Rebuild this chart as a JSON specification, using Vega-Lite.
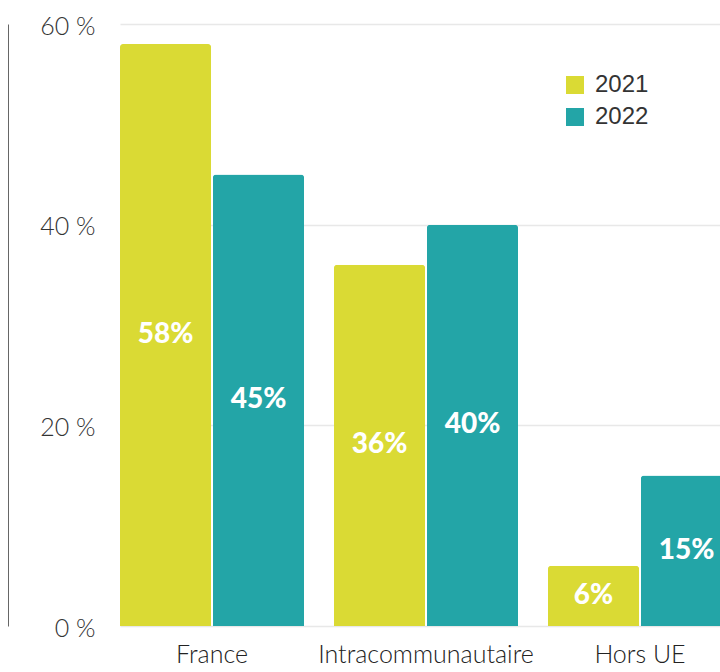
{
  "$schema": "https://vega.github.io/schema/vega-lite/v6.json",
  "autosize": {"type": "none"},
  "padding": {"left": 120, "top": 24, "right": 0, "bottom": 46},
  "width": 612,
  "height": 602,
  "background": "white",
  "config": {"view": {"stroke": null}},
  "data": {
    "values": [
      {"zone": "France", "year": "2021", "value": 58},
      {"zone": "France", "year": "2022", "value": 45},
      {"zone": "Intracommunautaire", "year": "2021", "value": 36},
      {"zone": "Intracommunautaire", "year": "2022", "value": 40},
      {"zone": "Hors UE", "year": "2021", "value": 6},
      {"zone": "Hors UE", "year": "2022", "value": 15}
    ]
  },
  "encoding": {
    "x": {
      "field": "zone", "type": "nominal",
      "sort": ["France", "Intracommunautaire", "Hors UE"],
      "scale": {"paddingInner": 0.14, "paddingOuter": 0},
      "axis": {"title": null, "ticks": false, "domain": false, "labelAngle": 0, "labelLimit": 400,
               "labelFont": "Lato", "labelFontWeight": 300, "labelFontSize": 25,
               "labelColor": "#222222", "labelPadding": 16}
    },
    "xOffset": {
      "field": "year", "type": "nominal",
      "scale": {"paddingInner": 0.02}
    }
  },
  "layer": [
    {
      "mark": {"type": "bar", "cornerRadiusTopLeft": 3, "cornerRadiusTopRight": 3},
      "encoding": {
        "y": {
          "field": "value", "type": "quantitative",
          "scale": {"domain": [0, 60], "nice": false},
          "axis": {"title": null, "values": [0, 20, 40, 60], "ticks": false,
                   "labelExpr": "datum.value + ' %'",
                   "labelFont": "Lato", "labelFontWeight": 300, "labelFontSize": 25,
                   "labelColor": "#333333", "labelOffset": 2,
                   "domain": true, "offset": 112, "domainColor": "#666666", "domainWidth": 1,
                   "labelPadding": -87,
                   "grid": true, "gridColor": "#e8e8e8", "gridWidth": 1.5}
        },
        "color": {
          "field": "year", "type": "nominal",
          "scale": {"domain": ["2021", "2022"], "range": ["#dada34", "#23a5a7"]},
          "legend": {"title": null, "orient": "none", "legendX": 443, "legendY": 49,
                     "symbolType": "square", "symbolSize": 324, "symbolStrokeWidth": 0,
                     "labelFont": "Liberation Sans", "labelFontSize": 24, "labelColor": "#333333",
                     "labelOffset": 8, "rowPadding": 8, "padding": 0}
        }
      }
    },
    {
      "transform": [
        {"calculate": "datum.value / 2", "as": "mid"},
        {"calculate": "datum.value + '%'", "as": "lbl"}
      ],
      "mark": {"type": "text", "color": "white", "font": "Lato", "fontWeight": 900, "fontSize": 28, "baseline": "middle"},
      "encoding": {
        "y": {"field": "mid", "type": "quantitative"},
        "text": {"field": "lbl", "type": "nominal"},
        "detail": {"field": "year"}
      }
    }
  ]
}
